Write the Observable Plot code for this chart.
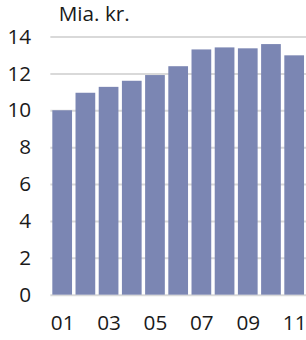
<!DOCTYPE html>
<html><head><meta charset="utf-8">
<script src="https://cdn.jsdelivr.net/npm/d3@7"></script>
<script src="https://cdn.jsdelivr.net/npm/@observablehq/plot@0.6"></script>
<style>
html,body{margin:0;padding:0;overflow:hidden;background:#fff;}
svg{display:block;}
</style></head>
<body><div id="chart"></div>
<script>
const years = ["01","02","03","04","05","06","07","08","09","10","11"];
const values = [10.0, 10.95, 11.27, 11.6, 11.91, 12.39, 13.3, 13.41, 13.36, 13.59, 12.98];
const yTicks = [0, 2, 4, 6, 8, 10, 12, 14];
const xTickLabels = ["01","03","05","07","09","11"];
const unitLabel = "Mia. kr.";

const data = years.map((y, i) => ({year: y, value: values[i]}));
const font = "'Open Sans', sans-serif";

const chart = Plot.plot({
  width: 310,
  height: 340,
  marginLeft: 51,
  marginRight: 0,
  marginTop: 37,
  marginBottom: 41.5,
  style: {fontFamily: font, fontSize: "21px", color: "#1a1a1a", background: "#fff"},
  x: {domain: years, paddingInner: 0.15, paddingOuter: 0.085, align: 0.5, round: false, label: null},
  y: {domain: [0, 14], label: null},
  marks: [
    Plot.ruleY(yTicks, {stroke: "#d9d9d9", strokeWidth: 2}),
    Plot.barY(data, {x: "year", y: "value", fill: "#7b86b3"}),
    Plot.axisY({ticks: yTicks, tickSize: 0, tickPadding: 20, label: null, fontSize: 21, fill: "#1a1a1a"}),
    Plot.axisX({ticks: xTickLabels, tickSize: 0, tickPadding: 20, label: null, fontSize: 21, fill: "#1a1a1a"}),
    Plot.text([unitLabel], {frameAnchor: "top-left", dx: 8, dy: -31, text: d => d, textAnchor: "start", lineAnchor: "top", fontSize: 21, fill: "#1a1a1a"})
  ]
});
document.getElementById("chart").appendChild(chart);
</script></body></html>
